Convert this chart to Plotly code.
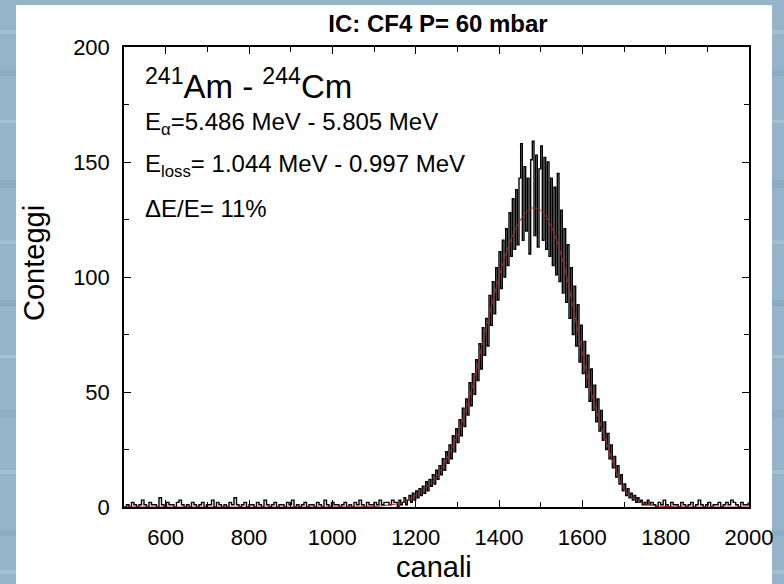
import plotly.graph_objects as go

# ---------------- data ----------------
# background channels (left), step 6
bg_left_x = list(range(500, 1150, 6))
bg_left_y = [0,1,0,2,1,0,1,3,1,0, 2,1,1,0,4,1,0,2,1,1,
             0,2,3,1,0,1,0,2,1,0, 1,2,0,1,1,3,0,2,1,0,
             1,0,2,1,4,1,0,1,2,0, 1,1,0,2,1,0,3,1,0,1,
             2,0,1,1,0,2,1,3,0,1, 0,1,2,0,1,1,0,2,1,0,
             3,1,0,2,1,1,0,1,2,0, 1,0,2,1,3,1,0,2,1,1,
             2,1,3,1,2,2,1,3,2]
# peak region, step 4 (1152 ... 1760)
peak_x = list(range(1152, 1761, 4))
peak_y = [2,0,3,1,2,4,1,3,5,2,6,3,7,4,8,5,9,6,11,7,
          12,9,14,10,16,12,18,14,21,16,24,19,27,21,31,24,34,28,38,31,
          43,35,47,40,54,44,58,49,64,55,71,60,78,66,82,70,
          92,79,98,84,104,90,111,95,116,100,121,105,128,109,134,112,138,114,143,158,
          116,148,120,143,110,151,159,118,153,113,147,157,116,152,112,150,109,143,105,139,
          101,145,98,129,93,121,89,114,82,104,75,96,70,88,63,79,58,72,
          52,66,46,60,42,53,37,47,33,42,29,37,25,32,21,27,17,22,13,18,
          10,14,7,10,5,8,4,6,3,5,2,4,2,3,1,2,1,3,1]
# background channels (right), step 6
bg_right_x = list(range(1764, 2000, 6))
bg_right_y = [2,1,0,2,1,3,1,0,2,1, 1,0,2,1,0,1,2,0,1,3,
              1,0,1,2,0,1,1,2,0,1, 2,1,3,2,1,0,2,1,1,2]

# fitted curve (red)
fit_x = [500, 1000, 1100, 1120, 1140, 1160, 1180, 1200, 1220, 1240, 1260, 1280,
         1300, 1320, 1340, 1360, 1380, 1400, 1420, 1440, 1460, 1480, 1500,
         1520, 1540, 1560, 1580, 1600, 1620, 1640, 1660, 1680, 1700, 1720,
         1740, 1760, 1780, 1800, 1850, 2000]
fit_y = [0, 0, 0.2, 0.5, 1, 1.5, 3, 5, 8, 11, 16, 23,
         31, 42, 55, 71, 86, 100, 112, 121, 127, 130, 129,
         124, 115, 102, 85, 67, 51, 38, 27, 16, 8, 4,
         2, 1, 0.5, 0.2, 0, 0]

x_ticks = [600, 800, 1000, 1200, 1400, 1600, 1800, 2000]
y_ticks = [0, 50, 100, 150, 200]

spec_x = bg_left_x + peak_x + bg_right_x
spec_y = bg_left_y + peak_y + bg_right_y

# ---------------- layout helpers ----------------
W, H = 784, 584
ML, MR, MT, MB = 124, 35, 47, 77
PW = W - ML - MR
PH = H - MT - MB


def px(x):
    return (x - ML) / PW


def py(y):
    return (H - MB - y) / PH


FONT = "Arial, Liberation Sans, Helvetica, sans-serif"

fig = go.Figure()
fig.add_trace(go.Scatter(x=spec_x, y=spec_y, mode="lines",
                         line=dict(color="black", width=1.4, shape="hv"),
                         showlegend=False, hoverinfo="skip"))
fig.add_trace(go.Scatter(x=fit_x, y=fit_y, mode="lines",
                         line=dict(color="#b22222", width=1, shape="spline"),
                         showlegend=False, hoverinfo="skip"))

shapes = []
# textured blue backdrop stripes
stripes = [(30, 4, "#a3c1d3"), (70, 6, "#8badc1"), (120, 3, "#a5c3d4"),
           (180, 8, "#8daec2"), (240, 4, "#a2c0d2"), (300, 6, "#8aacc0"),
           (355, 3, "#a4c2d3"), (410, 7, "#8eafc3"), (470, 4, "#a1bfd1"),
           (530, 6, "#8badc1"), (570, 4, "#a3c1d3")]
for yy, hh, col in stripes:
    shapes.append(dict(type="rect", xref="paper", yref="paper",
                       x0=px(-5), x1=px(W + 5), y0=py(yy + hh), y1=py(yy),
                       fillcolor=col, line=dict(width=0), layer="below"))
# white panel
shapes.append(dict(type="rect", xref="paper", yref="paper",
                   x0=px(16), x1=px(772), y0=py(H + 5), y1=py(5),
                   fillcolor="white", line=dict(width=0), layer="below"))

annotations = [
    dict(text="<sup>241</sup>Am - <sup>244</sup>Cm", x=px(143), y=py(84),
         font=dict(size=33)),
    dict(text="E<sub>α</sub>=5.486 MeV - 5.805 MeV", x=px(143), y=py(123),
         font=dict(size=24)),
    dict(text="E<sub>loss</sub>= 1.044 MeV - 0.997 MeV", x=px(143), y=py(165),
         font=dict(size=24)),
    dict(text="ΔE/E= 11%", x=px(143), y=py(209), font=dict(size=24)),
]
for a in annotations:
    a.update(xref="paper", yref="paper", xanchor="left", yanchor="middle",
             showarrow=False)
    a["font"].update(family=FONT, color="black")

# axis titles
annotations.append(dict(text="canali", x=px(434), y=py(567), xref="paper",
                        yref="paper", xanchor="center", yanchor="middle",
                        showarrow=False,
                        font=dict(family=FONT, size=29, color="black")))
annotations.append(dict(text="Conteggi", x=px(34), y=py(263), xref="paper",
                        yref="paper", xanchor="center", yanchor="middle",
                        textangle=-90, showarrow=False,
                        font=dict(family=FONT, size=29, color="black")))

axis_common = dict(showline=True, linecolor="black", linewidth=1.5,
                   mirror="ticks", ticks="inside", ticklen=7, tickwidth=1.3,
                   tickcolor="black", showgrid=False, zeroline=False,
                   tickfont=dict(family=FONT, size=22, color="black"))

fig.update_layout(
    width=W, height=H,
    margin=dict(l=ML, r=MR, t=MT, b=MB, pad=0),
    paper_bgcolor="#94b5c9",
    plot_bgcolor="white",
    shapes=shapes,
    annotations=annotations,
    title=dict(text="<b>IC: CF4 P= 60 mbar</b>", x=px(438), xref="paper",
               xanchor="center", y=1 - 24 / H, yref="container",
               yanchor="middle",
               font=dict(family=FONT, size=24, color="black")),
    xaxis=dict(range=[500, 2000], tickvals=x_ticks,
               ticktext=[str(v) for v in x_ticks], ticklabelstandoff=10,
               minor=dict(ticks="inside", ticklen=5, dtick=100, tick0=500,
                          tickcolor="black", tickwidth=1.3, showgrid=False),
               **axis_common),
    yaxis=dict(range=[0, 200], tickvals=y_ticks,
               ticktext=[str(v) for v in y_ticks], ticklabelstandoff=8,
               minor=dict(ticks="inside", ticklen=5, dtick=25, tick0=0,
                          tickcolor="black", tickwidth=1.3, showgrid=False),
               **axis_common),
)

fig.write_html("out.html")
